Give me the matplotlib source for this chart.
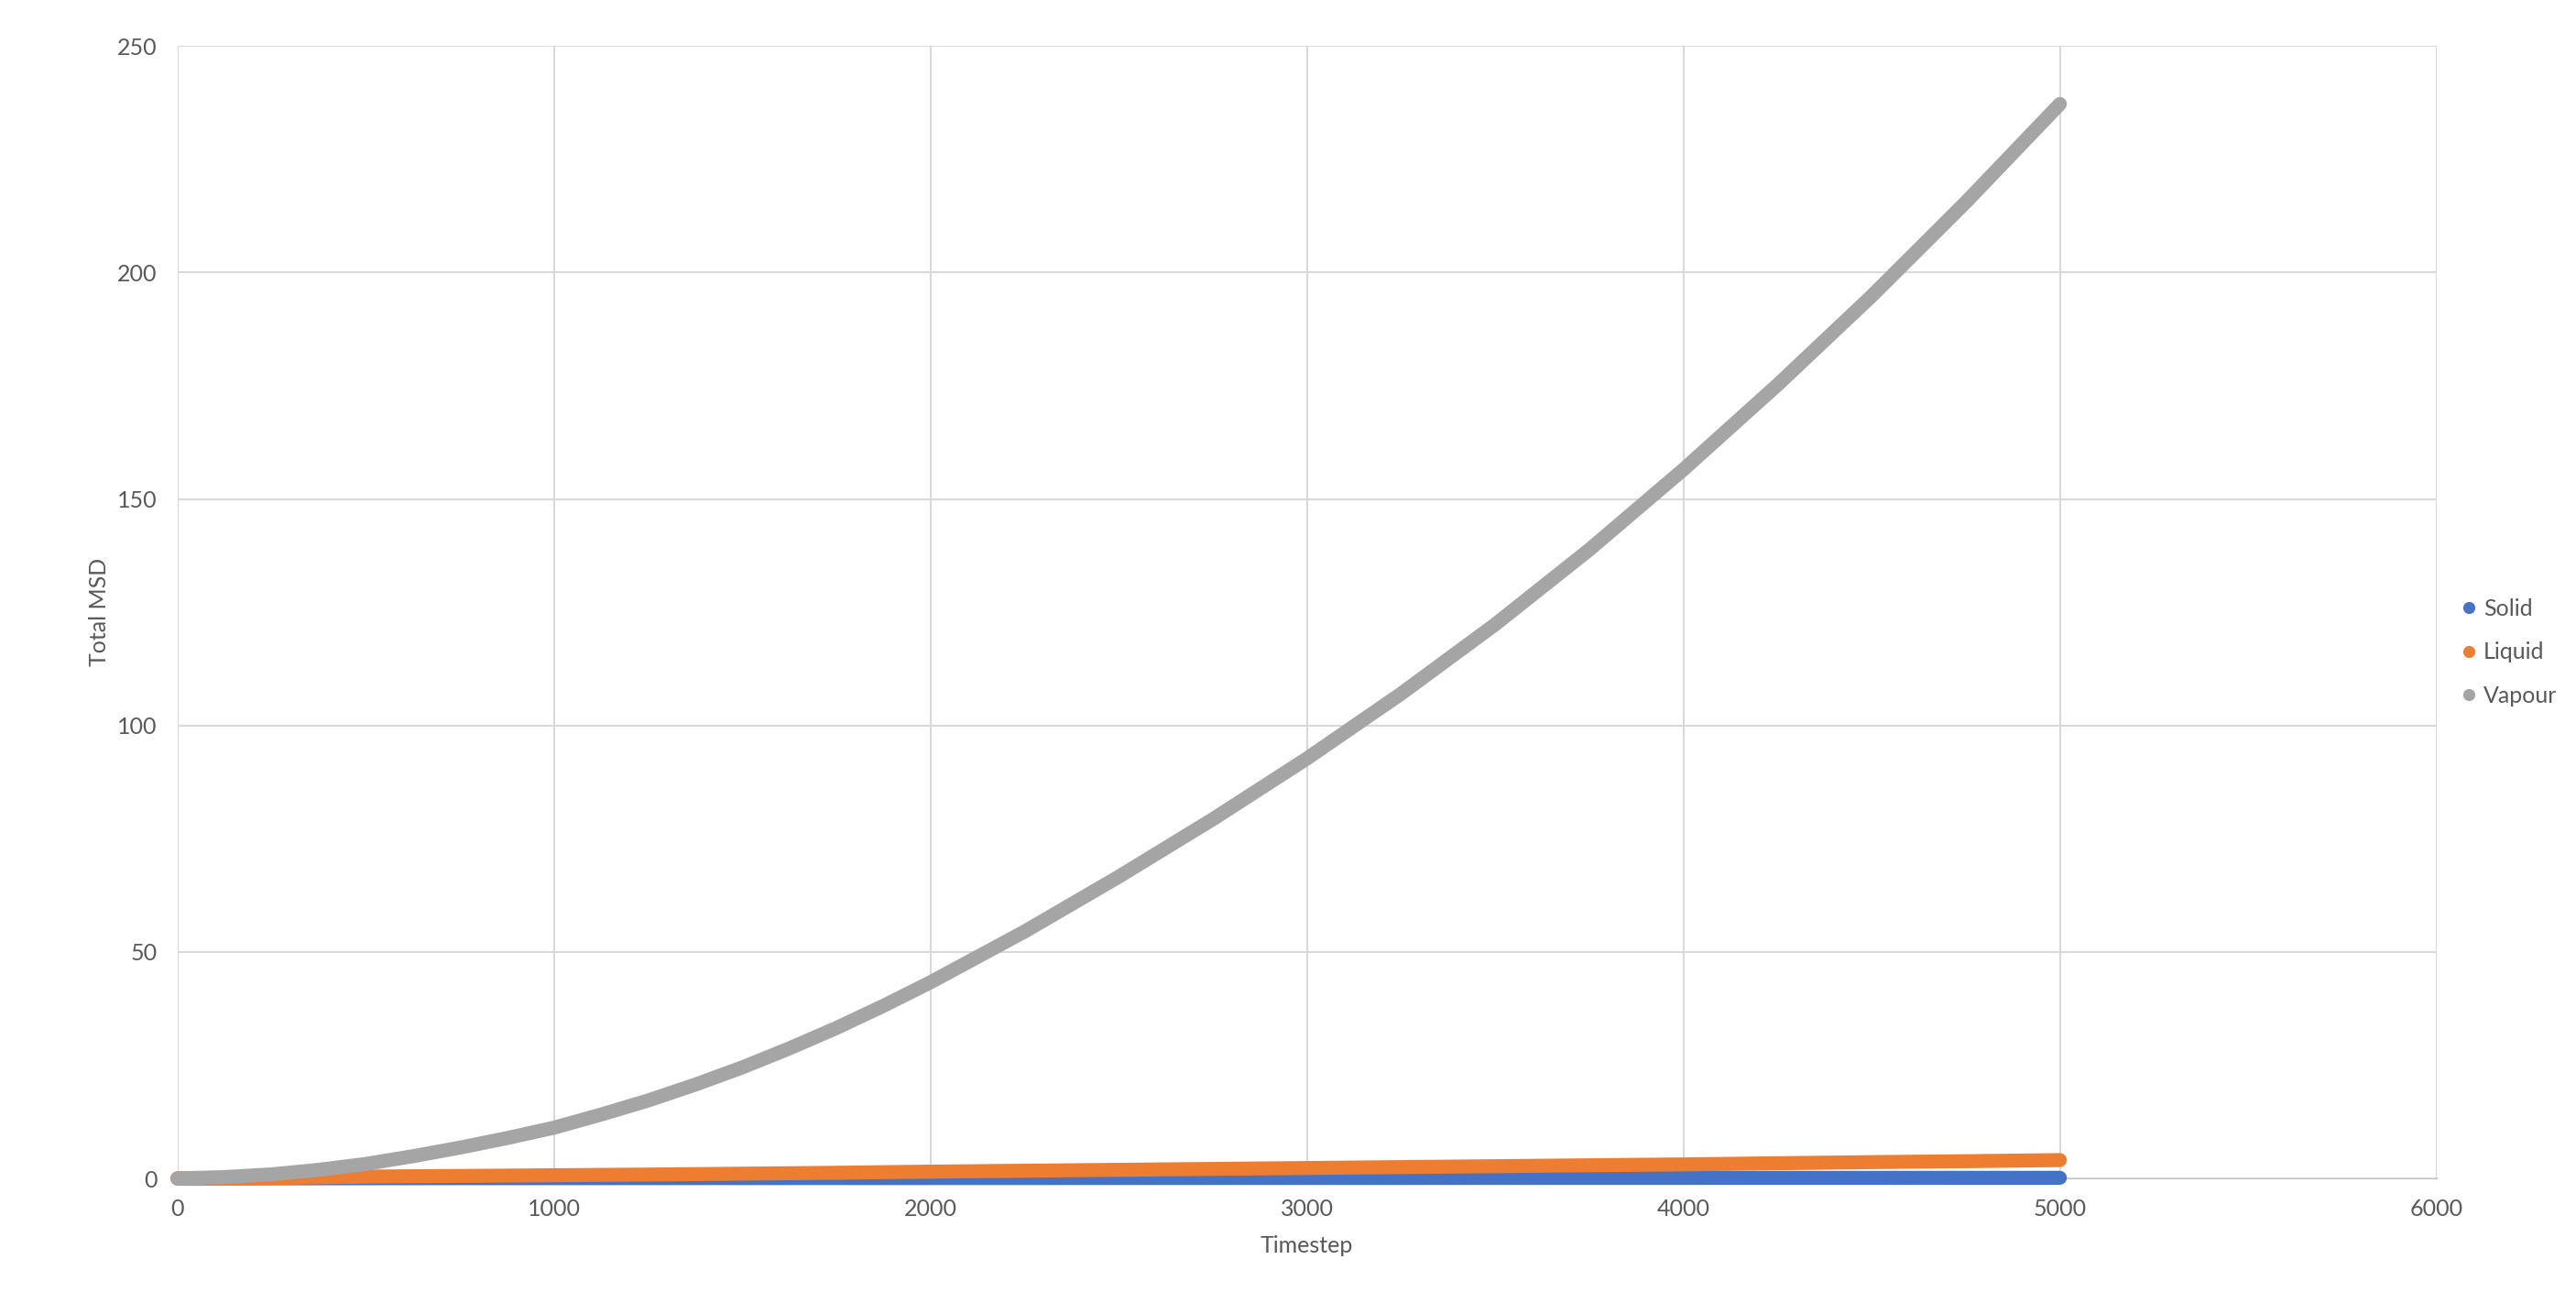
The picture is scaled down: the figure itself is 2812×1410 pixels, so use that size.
import matplotlib
matplotlib.use("Agg")
import matplotlib.pyplot as plt
from matplotlib.lines import Line2D

# Timesteps (finer sampling where the curve bends)
timestep = [0, 125, 250, 375, 500, 625, 750, 875, 1000, 1125, 1250, 1375,
            1500, 1625, 1750, 1875, 2000, 2250, 2500, 2750, 3000, 3250,
            3500, 3750, 4000, 4250, 4500, 4750, 5000]

solid_msd = [0.0, 0.01, 0.02, 0.03, 0.04, 0.045, 0.05, 0.055, 0.06, 0.065,
             0.07, 0.075, 0.08, 0.08, 0.08, 0.085, 0.09, 0.09, 0.10, 0.10,
             0.11, 0.11, 0.12, 0.12, 0.12, 0.13, 0.13, 0.14, 0.14]

liquid_msd = [0.0, 0.03, 0.1, 0.25, 0.4, 0.48, 0.55, 0.62, 0.7, 0.78, 0.85,
              0.95, 1.05, 1.15, 1.25, 1.38, 1.5, 1.7, 1.9, 2.1, 2.3, 2.5,
              2.7, 2.9, 3.1, 3.35, 3.6, 3.8, 4.05]

vapour_msd = [0.0, 0.3, 0.9, 1.9, 3.2, 4.9, 6.8, 8.9, 11.2, 14.1, 17.2,
              20.7, 24.5, 28.7, 33.2, 38.1, 43.3, 54.5, 66.6, 79.3, 92.7,
              107.0, 122.3, 138.8, 156.5, 175.2, 194.8, 215.5, 237.2]

series_names = ["Solid", "Liquid", "Vapour"]
series_colors = ["#4472C4", "#ED7D31", "#A5A5A5"]

plt.rcParams['font.family'] = ['Lato', 'DejaVu Sans']

fig = plt.figure(figsize=(28.12, 14.1), dpi=100)
ax = fig.add_axes([0.0689, 0.0879, 0.8769, 0.8765])

# dense Excel markers look like one thick rounded line
for name, vals, col, z in zip(series_names, [solid_msd, liquid_msd, vapour_msd],
                              series_colors, [3, 4, 5]):
    ax.plot(timestep, vals, '-', color=col, linewidth=11,
            solid_capstyle='round', solid_joinstyle='round',
            clip_on=False, zorder=z, label=name)

ax.set_xlim(0, 6000)
ax.set_ylim(0, 250)
ax.set_xticks(range(0, 6001, 1000))
ax.set_yticks(range(0, 251, 50))

ax.grid(True, color='#D9D9D9', linewidth=1.5)
ax.set_axisbelow(True)
for side in ['top', 'right', 'left']:
    ax.spines[side].set_visible(False)
ax.spines['bottom'].set_color('#BFBFBF')
ax.spines['bottom'].set_linewidth(1.5)
ax.spines['bottom'].set_zorder(0.5)

ax.tick_params(axis='both', length=0, labelsize=18, colors='#595959', pad=16)

ax.set_xlabel("Timestep", fontsize=18, color='#595959', labelpad=12)
ax.set_ylabel("Total MSD", fontsize=18, color='#595959', labelpad=6)

handles = [Line2D([], [], marker='o', linestyle='none', color=c,
                  markersize=9.5, markeredgewidth=0) for c in series_colors]
fig.legend(handles, series_names, loc='center left',
           bbox_to_anchor=(0.952, 1 - 712 / 1410), frameon=False,
           fontsize=18, labelcolor='#595959', handlelength=0.6,
           handletextpad=0.35, labelspacing=0.98, borderaxespad=0)

fig.savefig("out.png", dpi=100)
